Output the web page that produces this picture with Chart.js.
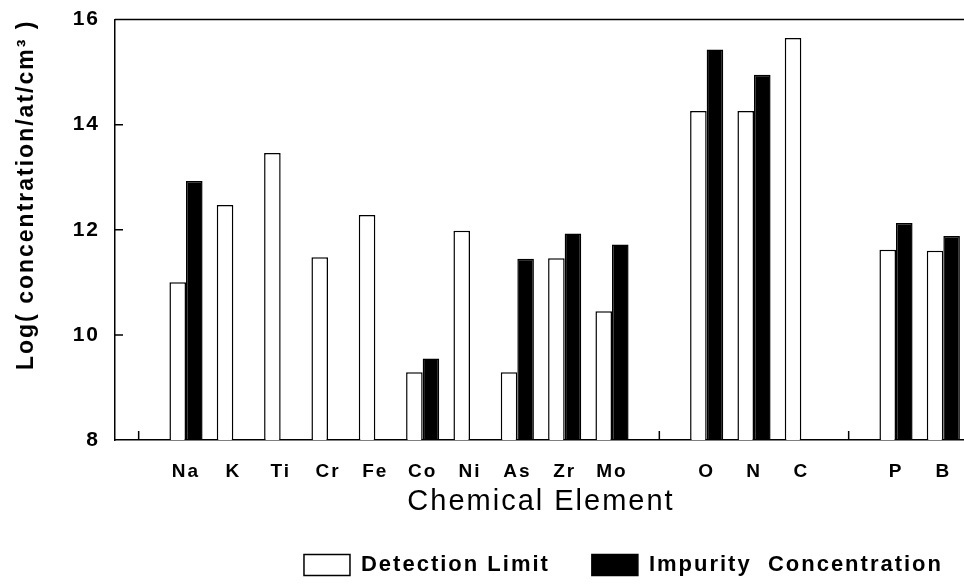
<!DOCTYPE html>
<html>
<head>
<meta charset="utf-8">
<title>Detection limit and impurity concentration</title>
<script src="https://cdn.jsdelivr.net/npm/chart.js@4.4.1/dist/chart.umd.min.js"></script>
<style>
  html, body { margin: 0; padding: 0; background: #fff; overflow: hidden; }
  #wrap { width: 972px; height: 586px; }
</style>
</head>
<body>
<div id="wrap"><canvas id="chart" width="972" height="586"></canvas></div>
<script>
// empty labels are the gaps between the element groups
const elements = ['', 'Na', 'K', 'Ti', 'Cr', 'Fe', 'Co', 'Ni', 'As', 'Zr', 'Mo', '', 'O', 'N', 'C', '', 'P', 'B'];
const detectionLimit = [null, 11.0, 12.47, 13.46, 11.48, 12.28, 9.29, 11.98, 9.29, 11.46, 10.45, null, 14.26, 14.26, 15.65, null, 11.62, 11.6];
const impurityConc = [null, 12.93, null, null, null, null, 9.55, null, 11.45, 11.93, 11.72, null, 15.43, 14.95, null, null, 12.13, 11.88];
const yTicks = [8, 10, 12, 14, 16];

Chart.defaults.font.family = "'Liberation Sans', Arial, sans-serif";
Chart.defaults.color = '#000';

const spacing = {
  id: 'spacing',
  beforeUpdate(chart) { chart.ctx.letterSpacing = '2px'; },
  beforeLayout(chart) { chart.ctx.letterSpacing = '2px'; },
  beforeDraw(chart) { chart.ctx.letterSpacing = '2px'; }
};

const frame = {
  id: 'frame',
  afterLayout(chart) {
    // move the legend a bit to the right, like in the paper figure
    chart.legend.left += 18;
    chart.legend.right += 18;
  },
  afterDraw(chart) {
    const { ctx, chartArea: a, scales: { x, y } } = chart;
    ctx.save();
    ctx.strokeStyle = '#000';
    ctx.lineWidth = 1.5;
    ctx.beginPath();
    ctx.moveTo(a.left, a.top);
    ctx.lineTo(a.right, a.top);
    yTicks.slice(1, -1).forEach(v => {
      const py = y.getPixelForValue(v);
      ctx.moveTo(a.left, py);
      ctx.lineTo(a.left + 8, py);
    });
    elements.forEach((e, i) => {
      if (e === '') {
        const px = x.getPixelForValue(i);
        ctx.moveTo(px, a.bottom);
        ctx.lineTo(px, a.bottom - 9);
      }
    });
    ctx.stroke();
    ctx.restore();
  }
};

new Chart(document.getElementById('chart'), {
  type: 'bar',
  data: {
    labels: elements,
    datasets: [{
      label: 'Detection Limit',
      data: detectionLimit,
      backgroundColor: '#fff',
      borderColor: '#000',
      borderWidth: 1.5
    }, {
      label: 'Impurity  Concentration',
      data: impurityConc,
      backgroundColor: '#000',
      borderColor: '#000',
      borderWidth: 1.5
    }]
  },
  options: {
    responsive: false,
    animation: false,
    categoryPercentage: 0.7,
    barPercentage: 1.0,
    layout: { padding: { top: 18, right: 5, bottom: 0, left: 0 } },
    plugins: {
      legend: {
        position: 'bottom',
        align: 'end',
        labels: {
          boxWidth: 46,
          boxHeight: 21,
          padding: 42,
          color: '#000',
          font: { size: 22, weight: 'bold' }
        }
      },
      tooltip: { enabled: false }
    },
    scales: {
      x: {
        grid: { display: false },
        border: { color: '#000', width: 1.5 },
        ticks: {
          autoSkip: false,
          maxRotation: 0,
          padding: 12,
          color: '#000',
          font: { size: 19, weight: 'bold' }
        },
        title: {
          display: true,
          text: 'Chemical Element',
          color: '#000',
          padding: 0,
          font: { size: 29, lineHeight: 0.7 }
        },
        afterFit(scale) { scale.height = 72; }
      },
      y: {
        min: 8,
        max: 16,
        grid: { display: false },
        border: { color: '#000', width: 1.5 },
        afterBuildTicks(scale) { scale.ticks = yTicks.map(v => ({ value: v })); },
        ticks: {
          padding: 7,
          color: '#000',
          font: { size: 21, weight: 'bold' }
        },
        title: {
          display: true,
          text: 'Log( concentration/at/cm³ )',
          align: 'end',
          color: '#000',
          padding: { top: 13 },
          font: { size: 23, weight: 'bold' }
        },
        afterFit(scale) { scale.width = 115; }
      }
    }
  },
  plugins: [spacing, frame]
});
</script>
</body>
</html>
